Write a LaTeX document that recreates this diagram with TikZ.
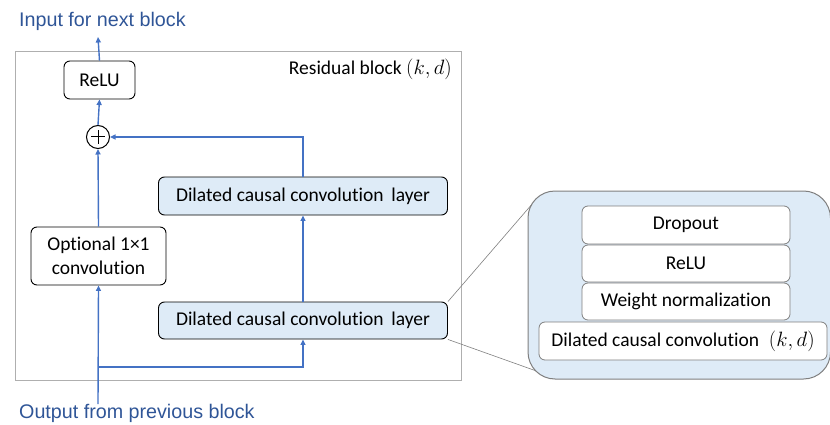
\documentclass[tikz,border=0pt]{standalone}
\usepackage{fontspec}
\setmainfont{Carlito}[Ligatures=NoCommon]
\newfontfamily\arialfont{Liberation Sans}
\usetikzlibrary{arrows.meta}
\definecolor{lineblue}{HTML}{4472C4}
\definecolor{textblue}{HTML}{2F5597}
\definecolor{boxblue}{HTML}{DEEBF7}
\definecolor{framegrey}{HTML}{AFAFAF}
\definecolor{calloutgrey}{HTML}{7F7F7F}
\begin{document}
\begin{tikzpicture}[x=1pt,y=-1pt,
  txt/.style={font=\fontsize{19.5}{23.5}\selectfont},
  blockbox/.style={draw=black, line width=0.9pt, rounded corners=6pt, fill=white, txt, align=center, inner sep=0pt},
  bluebox/.style={blockbox, fill=boxblue},
  innerbox/.style={draw=calloutgrey, line width=0.8pt, rounded corners=6pt, fill=white, txt, inner sep=0pt},
  conn/.style={draw=lineblue, line width=1.4pt, -{Triangle[length=5.5pt,width=5pt]}},
  zoomline/.style={draw=calloutgrey, line width=0.6pt},
  bluelabel/.style={text=textblue, font=\arialfont\fontsize{19.7}{23}\selectfont, inner sep=0pt, anchor=west}
]
\useasboundingbox (0,0) rectangle (830,425);
% outer residual block frame
\draw[framegrey, line width=1pt] (15,52) rectangle (461,380);
\node[txt, anchor=east, inner sep=0pt] (title) at (452,69) {Residual block $(k,d)$};

% nodes
\node[blockbox, minimum width=71pt, minimum height=38pt] (relu) at (99.5,80) {ReLU};
\node[draw=black, line width=1pt, circle, minimum size=23pt, inner sep=0pt, fill=white] (plus) at (98,137) {};
\draw[line width=1pt] ([xshift=-7pt]plus.center) -- ([xshift=7pt]plus.center);
\draw[line width=1pt] ([yshift=-7pt]plus.center) -- ([yshift=7pt]plus.center);
\node[blockbox, minimum width=135pt, minimum height=58pt] (opt) at (98.5,256) {Optional 1×1\\convolution};
\node[bluebox, minimum width=289pt, minimum height=38pt] (dil2) at (303,196) {Dilated causal convolution\,\ layer};
\node[bluebox, minimum width=289pt, minimum height=37pt] (dil1) at (303,320.5) {Dilated causal convolution\,\ layer};

% labels
\node[bluelabel] (inlbl) at (19,21) {Input for next block};
\node[bluelabel] (outlbl) at (19,413) {Output from previous block};
\coordinate (topend) at (98,37);
\coordinate (botstart) at (98,404);
\coordinate (branch) at (98,367);

% connectors
\draw[conn] (botstart) -- (opt.south);
\draw[conn] (branch) -| (dil1.south);
\draw[conn] (opt.north) -- (plus.south);
\draw[conn] (plus.north) -- (relu.south);
\draw[conn] (relu.north) -- (topend);
\draw[conn] (dil1.north) -- (dil2.south);
\draw[conn] (dil2.north) |- (plus.east);

% callout
\coordinate (ztop) at (533,203);
\coordinate (zbot) at (542,373);
\draw[zoomline] (dil1.north east) -- (ztop);
\draw[zoomline] (dil1.south east) -- (zbot);
\begin{scope}
\clip (0,0) rectangle (830,425);
\draw[draw=calloutgrey, line width=1pt, fill=boxblue, rounded corners=27pt] (528,191) rectangle (830.5,379);
\end{scope}
\node[innerbox, minimum width=208pt, minimum height=38pt] (drop) at (686,225) {Dropout};
\node[innerbox, minimum width=208pt, minimum height=37pt] (relu2) at (686,263.5) {ReLU};
\node[innerbox, minimum width=208pt, minimum height=37pt] (wn) at (686,301.5) {Weight normalization};
\node[innerbox, minimum width=288pt, minimum height=38pt] (dcc) at (683,341) {Dilated causal convolution\;\ $(k,d)$};
\end{tikzpicture}
\end{document}
